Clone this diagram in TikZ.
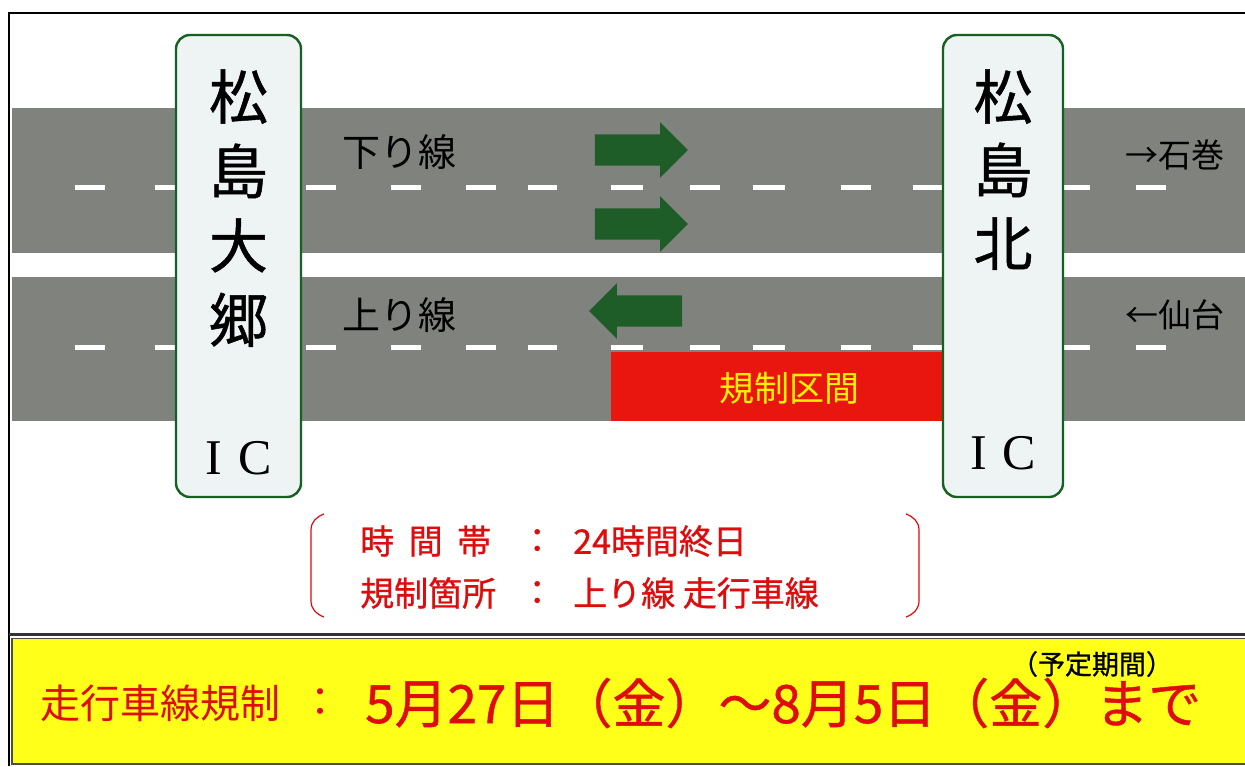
\documentclass[tikz,border=0pt]{standalone}
\usepackage{fontspec}
\newfontfamily\jpfont{Noto Sans CJK JP}
\newfontfamily\jpheavy[FakeBold=0.8]{Noto Sans CJK JP}
\newfontfamily\icfont{Liberation Serif}
\usetikzlibrary{shapes.arrows, positioning, calc}

\definecolor{roadgray}{RGB}{128,130,126}
\definecolor{signgreen}{RGB}{22,96,34}
\definecolor{signfill}{RGB}{238,244,244}
\definecolor{arrowgreen}{RGB}{30,92,40}
\definecolor{zonered}{RGB}{232,22,14}
\definecolor{textred}{RGB}{222,12,12}
\definecolor{banneryellow}{RGB}{255,255,26}

\tikzset{
	lanemark/.style={fill=white, draw=none},
	icsign/.style={rectangle, rounded corners=14, line width=2.4pt, draw=signgreen, fill=signfill, minimum height=462},
	signchar/.style={inner sep=0, text height=46pt, text depth=6pt, font=\jpheavy\fontsize{59}{60}\selectfont},
	icmark/.style={inner sep=0, anchor=south, font=\icfont\fontsize{50}{52}\selectfont},
	roadlabel/.style={inner sep=0, font=\jpfont\fontsize{38}{40}\selectfont},
	placelabel/.style={inner sep=0, font=\jpfont\fontsize{33}{36}\selectfont},
	flowarrow/.style={single arrow, fill=arrowgreen, draw=none, inner xsep=0, inner ysep=15.5pt, single arrow head extend=12pt, minimum width=55, minimum height=93},
	infotext/.style={inner sep=0, anchor=west, text=textred, font=\jpheavy\fontsize{34}{36}\selectfont},
	paren/.style={draw=textred, line width=1.2pt}
}

\begin{document}
\begin{tikzpicture}[x=1pt, y=-1pt]
			\useasboundingbox (0,0) rectangle (1245,766);
			
			\fill[white] (0,0) rectangle (1245,766);
			
			\draw[line width=2pt] (9,766) -- (9,13) -- (1245,13);
			
			\fill[roadgray] (12,108) rectangle (1245,253);
			
			\fill[roadgray] (12,277) rectangle (1245,421);
			
			\foreach \xa/\xb in {75/105, 155/185, 306/336, 391/421, 466/496, 528/557, 611/643, 690/720, 753/785, 841/871, 913/943, 1064/1090, 1136/1166}
			{
				\fill[lanemark] (\xa,184.5) rectangle (\xb,189.5);
				\fill[lanemark] (\xa,344.5) rectangle (\xb,349.5);
			}
			
			\node[rectangle, fill=zonered, inner sep=0, minimum width=334, minimum height=69] (zone) at (778,386.5) {};
			
			\node[inner sep=0, text=yellow, font=\jpfont\fontsize{35}{36}\selectfont] (zonelabel) at ([xshift=11pt, yshift=-2pt]zone.center) {規制区間};
			
			\node[flowarrow] (downA) at (633.5,150) {};
			
			\node[flowarrow] (downB) at (633.5,224) {};
			
			\node[flowarrow, shape border rotate=180] (upA) at (643.5,311) {};
			
			\node[roadlabel] (downlabel) at (399,152) {下り線};
			
			\node[roadlabel] (uplabel) at (399,315) {上り線};
			
			\node[placelabel] (ishinomaki) at (1175,155) {→石巻};
			
			\node[placelabel] (sendai) at (1175,315) {←仙台};
			
			\node[icsign, minimum width=125] (westic) at (238.5,266) {};
			
			\node[signchar, below=39pt of westic.north] (westA) {松};
			\node[signchar, below=22pt of westA] (westB) {島};
			\node[signchar, below=22pt of westB] (westC) {大};
			\node[signchar, below=22pt of westC] (westD) {郷};
			\node[icmark, above=23pt of westic.south] (westicmark) {I\hspace{16pt}C};
			
			\node[icsign, minimum width=120] (eastic) at (1003,266) {};
			
			\node[signchar, below=39pt of eastic.north] (eastA) {松};
			\node[signchar, below=21pt of eastA] (eastB) {島};
			\node[signchar, below=21pt of eastB] (eastC) {北};
			\node[icmark, above=28pt of eastic.south] (easticmark) {I\hspace{16pt}C};
			
			\node[infotext] (hourkey) at (360,541) {\makebox[131pt][s]{時\hfill 間\hfill 帯}};
			\node[infotext] (hourcolon) at (520,541) {：};
			\node[infotext] (hourval) at (573,541) {24時間終日};
			
			\node[infotext] (placekey) at (360,593) {規制箇所};
			\node[infotext] (placecolon) at (520,593) {：};
			\node[infotext] (placeval) at (573,593) {上り線 走行車線};
			
			\draw[paren] (324,514) to[out=200, in=90] (311,530) -- (311,601) to[out=-90, in=160] (324,617);
			
			\draw[paren] (906,514) to[out=-20, in=90] (919,530) -- (919,601) to[out=-90, in=20] (906,617);
			
			\draw[line width=3pt, black!80] (9,634) -- (1245,634);
			
			\filldraw[fill=banneryellow, draw=black!70, line width=1.2pt] (12,638.5) rectangle (1260,764);
			
			\node[inner sep=0, anchor=west, text=textred, font=\jpfont\fontsize{40}{42}\selectfont] (bannerkey) at (40,703) {走行車線規制};
			
			\node[inner sep=0, text=textred, font=\jpfont\fontsize{40}{42}\selectfont] (bannercolon) at (320,703) {：};
			
			\node[inner sep=0, anchor=west, text=textred, font=\jpheavy\fontsize{53}{55}\selectfont] (period) at (365,703) {5月27日（金）～8月5日（金）まで};
			
			\node[inner sep=0, font=\jpheavy\fontsize{27}{29}\selectfont] (plannote) at (1092,664) {（予定期間）};
		\end{tikzpicture}
\end{document}
